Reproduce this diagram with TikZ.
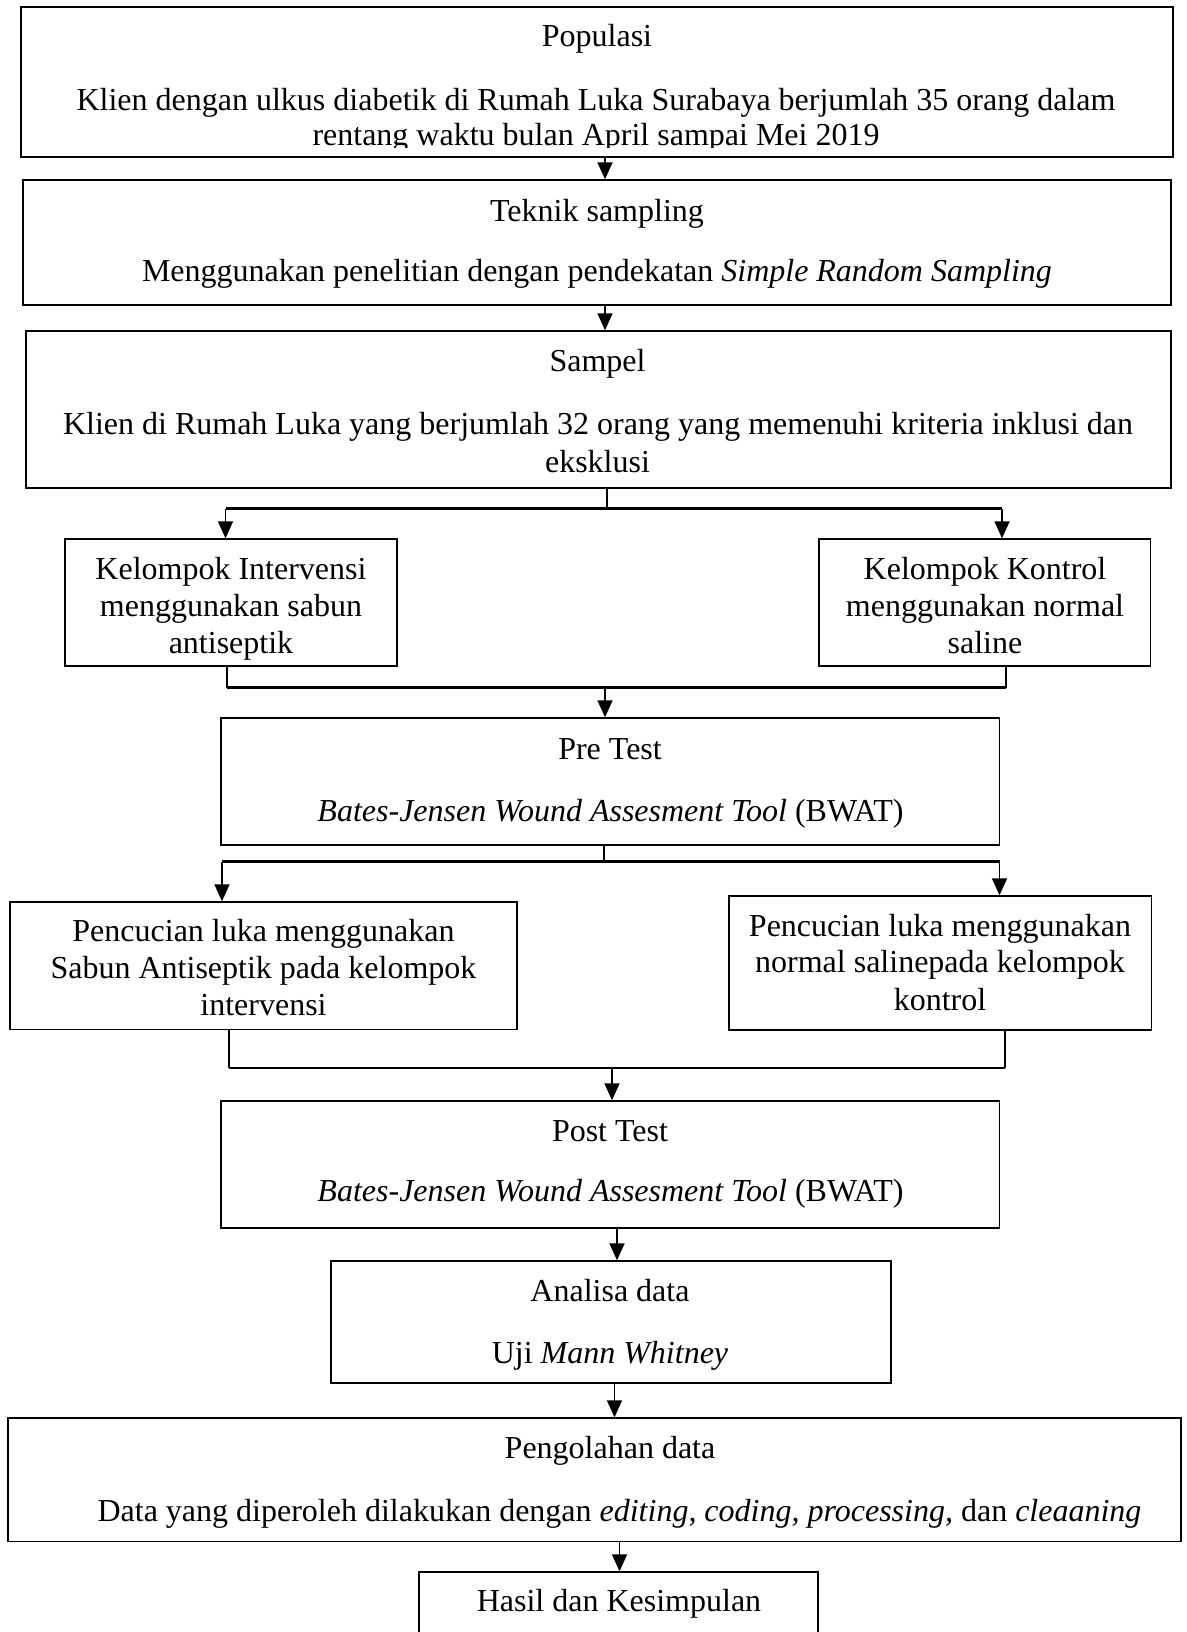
\documentclass[tikz,border=0pt]{standalone}
\usepackage{fontspec}
\setmainfont{Liberation Serif}
\usetikzlibrary{arrows.meta,fit}
\begin{document}
\begin{tikzpicture}[x=0.5pt,y=-0.5pt,
  box/.style={draw, line width=0.7pt, inner sep=0pt},
  txt/.style={anchor=base, inner sep=0pt, font=\fontsize{16}{18.5}\selectfont},
  conn/.style={line width=1.1pt},
  arr/.style={line width=0.8pt, -{Triangle[length=8.5pt,width=7.5pt]}}]
\useasboundingbox (0,0) rectangle (1187,1632);

% boxes
\node[box, fit={(21,7) (1173,157)}] (b1) {};
\node[box, fit={(23,180) (1171,305)}] (b2) {};
\node[box, fit={(26,331) (1171,488)}] (b3) {};
\node[box, fit={(65,539) (397,666)}] (b4a) {};
\node[box, fit={(819,539) (1150.5,666)}] (b4b) {};
\node[box, fit={(221,718) (999.5,845)}] (b5) {};
\node[box, fit={(10,902) (517,1029.5)}] (b6a) {};
\node[box, fit={(729,896) (1151.5,1030)}] (b6b) {};
\node[box, fit={(221,1101) (999.5,1228)}] (b7) {};
\node[box, fit={(331,1261) (891,1383)}] (b8) {};
\node[box, fit={(8,1418) (1181,1541.5)}] (b9) {};
\node[box, fit={(419,1572) (818,1660)}] (b10) {};

% texts
\node[txt] (t1a) at (597,47) {Populasi};
\begin{scope}
\clip (21,7) rectangle (1173,147);
\node[txt] (t1b) at (596,110.5) {Klien dengan ulkus diabetik di Rumah Luka Surabaya berjumlah 35 orang dalam};
\node[txt] (t1c) at (596,146) {rentang waktu bulan April sampai Mei 2019};
\end{scope}
\node[txt] (t2a) at (597,221.5) {Teknik sampling};
\node[txt] (t2b) at (597,281.5) {Menggunakan penelitian dengan pendekatan \textit{Simple Random Sampling}};
\node[txt] (t3a) at (597.5,371.5) {Sampel};
\node[txt] (t3b) at (598,434.5) {Klien di Rumah Luka yang berjumlah 32 orang yang memenuhi kriteria inklusi dan};
\node[txt] (t3c) at (597.5,472) {eksklusi};
\node[txt] (t4a1) at (231,579) {Kelompok Intervensi};
\node[txt] (t4a2) at (231,616) {menggunakan sabun};
\node[txt] (t4a3) at (231,653) {antiseptik};
\node[txt] (t4b1) at (985,579) {Kelompok Kontrol};
\node[txt] (t4b2) at (985,616) {menggunakan normal};
\node[txt] (t4b3) at (985,653) {saline};
\node[txt] (t5a) at (610,759) {Pre Test};
\node[txt] (t5b) at (610.5,821) {\textit{Bates-Jensen Wound Assesment Tool} (BWAT)};
\node[txt] (t6a1) at (263.5,941.5) {Pencucian luka menggunakan};
\node[txt] (t6a2) at (263.5,978.3) {Sabun Antiseptik pada kelompok};
\node[txt] (t6a3) at (263.5,1015) {intervensi};
\node[txt] (t6b1) at (940,936) {Pencucian luka menggunakan};
\node[txt] (t6b2) at (940,972.7) {normal salinepada kelompok};
\node[txt] (t6b3) at (940,1010) {kontrol};
\node[txt] (t7a) at (610,1141) {Post Test};
\node[txt] (t7b) at (610.5,1201) {\textit{Bates-Jensen Wound Assesment Tool} (BWAT)};
\node[txt] (t8a) at (610,1301) {Analisa data};
\node[txt] (t8b) at (610,1363) {Uji \textit{Mann Whitney}};
\node[txt] (t9a) at (610,1458) {Pengolahan data};
\node[txt] (t9b) at (619.5,1521.5) {Data yang diperoleh dilakukan dengan \textit{editing, coding, processing,} dan \textit{cleaaning}};
\node[txt] (t10) at (619,1611) {Hasil dan Kesimpulan};

% junction coordinates
\coordinate (a1) at (605,0);
\coordinate (s1) at (607,508.5);
\coordinate (s1L) at (225.5,508.5);
\coordinate (s1R) at (1002,508.5);
\coordinate (m1L) at (227,687.5);
\coordinate (m1R) at (1006,687.5);
\coordinate (m1) at (605,687.5);
\coordinate (s2) at (604,861.5);
\coordinate (s2L) at (222,861.5);
\coordinate (s2R) at (999.5,861.5);
\coordinate (m2L) at (229,1068);
\coordinate (m2R) at (1005,1068);
\coordinate (m2) at (612,1068);
\coordinate (a7) at (617,0);
\coordinate (a8) at (614.5,0);
\coordinate (a9) at (619.5,0);

% connectors
\draw[arr] (b1.south -| a1) -- (b2.north -| a1);
\draw[arr] (b2.south -| a1) -- (b3.north -| a1);

\draw[conn] (b3.south -| s1) -- (s1);
\draw[conn] (s1L) -- (s1R);
\draw[arr] (s1L) -- (s1L |- b4a.north);
\draw[arr] (s1R) -- (s1R |- b4b.north);

\draw[conn] (b4a.south -| m1L) -- (m1L);
\draw[conn] (b4b.south -| m1R) -- (m1R);
\draw[conn] (m1L) -- (m1R);
\draw[arr] (m1) -- (m1 |- b5.north);

\draw[conn] (b5.south -| s2) -- (s2);
\draw[conn] (s2L) -- (s2R);
\draw[arr] (s2L) -- (s2L |- b6a.north);
\draw[arr] (s2R) -- (s2R |- b6b.north);

\draw[conn] (b6a.south -| m2L) -- (m2L);
\draw[conn] (b6b.south -| m2R) -- (m2R);
\draw[conn] (m2L) -- (m2R);
\draw[arr] (m2) -- (m2 |- b7.north);

\draw[arr] (b7.south -| a7) -- (b8.north -| a7);
\draw[arr] (b8.south -| a8) -- (b9.north -| a8);
\draw[arr] (b9.south -| a9) -- (b10.north -| a9);
\end{tikzpicture}
\end{document}
